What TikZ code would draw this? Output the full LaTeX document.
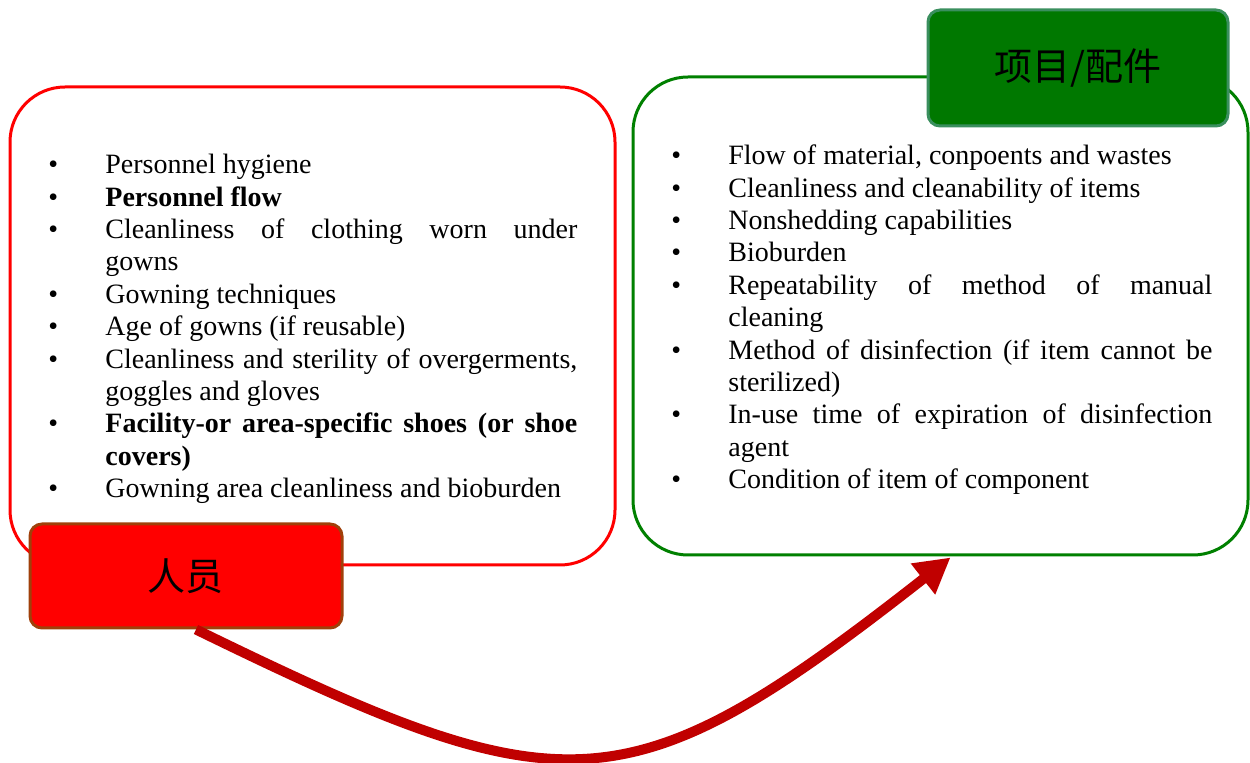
\documentclass[tikz,border=0pt]{standalone}
\usepackage{fontspec}
\setmainfont{Liberation Serif}
\newfontfamily\cjk{Noto Sans CJK SC}
\usetikzlibrary{arrows.meta,positioning,calc}
\definecolor{ruby}{HTML}{C00000}
\definecolor{rust}{HTML}{A0400A}
\definecolor{leaf}{HTML}{008000}
\definecolor{forest}{HTML}{007800}
\definecolor{seagrn}{HTML}{3A8F5E}
% bullet item, spaces may stretch but not shrink
\newcommand{\itm}{\par\spaceskip=3.5pt plus 12pt\relax\noindent\hangindent=28.5pt\hangafter=1\makebox[28.5pt][l]{\textbullet}}
\frenchspacing

\begin{document}
\begin{tikzpicture}[
  x=0.5pt, y=-0.5pt,
  panel/.style={draw=#1, line width=1.5pt, rounded corners=27.5pt, minimum width=302.5pt, minimum height=239pt},
  tag/.style={draw=#1, line width=1.5pt, rounded corners=6pt, minimum width=150pt, minimum height=52pt, font=\cjk\fontsize{19}{22}\selectfont},
  list/.style={anchor=north west, inner sep=0pt, align=justify, font=\fontsize{14}{16.2}\selectfont},
  arr/.style={-{Triangle[length=17.5pt,width=18.5pt]}, ruby, line width=5pt}
]
\useasboundingbox (0,0) rectangle (1250,763);

\node[panel=red] (pplbox) at (312.5,326) {};
\node[panel=leaf, minimum width=307.5pt] (itmbox) at (940.5,316) {};

\node[list, text width=264.5pt] (ppllist) at (48,141) {%
\itm\rule{0pt}{10pt}Personnel hygiene
\itm\textbf{Personnel flow}
\itm Cleanliness of clothing worn under gowns
\itm Gowning techniques
\itm Age of gowns (if reusable)
\itm Cleanliness and sterility of overgerments, goggles and gloves
\itm\textbf{Facility-or area-specific shoes (or shoe covers)}
\itm Gowning area cleanliness and bioburden\par};

\node[list, text width=270.5pt] (itmlist) at (671,132) {%
\itm\rule{0pt}{10pt}Flow of material, conpoents and wastes
\itm Cleanliness and cleanability of items
\itm Nonshedding capabilities
\itm Bioburden
\itm Repeatability of method of manual cleaning
\itm Method of disinfection (if item cannot be sterilized)
\itm In-use time of expiration of disinfection agent
\itm Condition of item of component\par};

\node[tag=rust, fill=red, minimum width=156pt] (ppl) at (186,576) {人员};
\node[tag=seagrn, fill=forest, minimum height=58pt] (itm) at (1078,68) {项目/配件};

\draw[arr] ($(ppl.south)+(10,0)$) .. controls +(369,180) and +(-324,254) .. ($(itmbox.south)+(10,1)$);
\end{tikzpicture}
\end{document}
